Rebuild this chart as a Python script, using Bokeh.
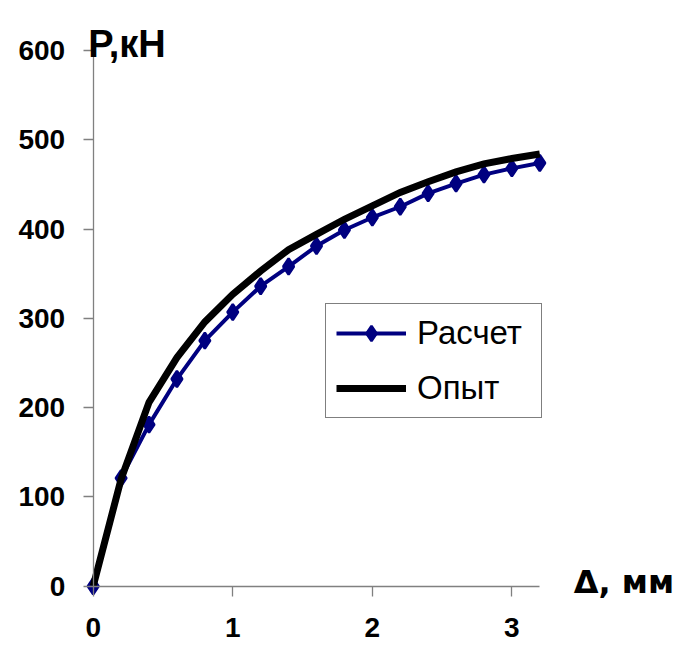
from bokeh.plotting import figure
from bokeh.models import Range1d, Legend, LegendItem, Label, FixedTicker
from bokeh.embed import file_html
from bokeh.resources import INLINE

# Data
delta_mm = [0.0, 0.2, 0.4, 0.6, 0.8, 1.0, 1.2, 1.4, 1.6, 1.8, 2.0, 2.2, 2.4, 2.6, 2.8, 3.0, 3.2]
p_calc = [0, 121, 181, 232, 275, 307, 336, 358, 381, 399, 413, 425, 440, 451, 461, 468, 474]
p_exp = [0, 120, 206, 256, 296, 327, 353, 377, 394, 411, 426, 441, 453, 464, 473, 479, 484]
x_ticks = [0, 1, 2, 3]
y_ticks = [0, 100, 200, 300, 400, 500, 600]
series_names = ["Расчет", "Опыт"]
y_title = "P,кН"
x_title = "Δ, мм"

FONT = "Liberation Sans"
W, H = 682, 646
# pixel placement of the data rectangle (0..3.2, 0..600)
X0_PX, X1_PX = 92.7, 539.3
Y0_PX, Y1_PX = 585.7, 50.0
XMAX, YMAX = 3.2, 600
sx = (X1_PX - X0_PX) / XMAX
sy = (Y0_PX - Y1_PX) / YMAX

p = figure(width=W, height=H, output_backend="svg", toolbar_location=None,
           x_range=Range1d(-X0_PX / sx, (W - X0_PX) / sx),
           y_range=Range1d(-(H - Y0_PX) / sy, Y0_PX / sy),
           min_border_left=0, min_border_right=0, min_border_top=0, min_border_bottom=0)
p.outline_line_color = None
p.grid.visible = False
p.background_fill_color = "white"
p.border_fill_color = "white"

xa, ya = p.xaxis[0], p.yaxis[0]
xa.fixed_location = 0
ya.fixed_location = 0
xa.bounds = (0, XMAX)
ya.bounds = (0, YMAX)
for ax in (xa, ya):
    ax.axis_line_color = "#808080"
    ax.axis_line_width = 1.3
    ax.major_tick_line_color = "#808080"
    ax.major_tick_line_width = 1.3
    ax.major_tick_in = 0
    ax.major_tick_out = 10
    ax.minor_tick_line_color = None
    ax.major_label_text_font = FONT
    ax.major_label_text_font_style = "bold"
    ax.major_label_text_font_size = "28px"
    ax.major_label_text_color = "black"

xa.ticker = FixedTicker(ticks=x_ticks)
ya.ticker = FixedTicker(ticks=y_ticks)
xa.major_label_standoff = 22
ya.major_label_standoff = 18

NAVY = "#000080"
r_calc_line = p.line(delta_mm, p_calc, line_color=NAVY, line_width=4)
r_calc_pts = p.scatter(delta_mm, p_calc, marker="diamond", size=16,
                       fill_color=NAVY, line_color=NAVY, line_width=2.5)
r_exp = p.line(delta_mm, p_exp, line_color="black", line_width=7, line_join="miter")

legend = Legend(items=[LegendItem(label=series_names[0], renderers=[r_calc_line, r_calc_pts]),
                       LegendItem(label=series_names[1], renderers=[r_exp])],
                location=(325, H - 418), orientation="vertical")
legend.label_text_font = FONT
legend.label_text_font_size = "33px"
legend.label_text_color = "black"
legend.glyph_width = 70
legend.glyph_height = 38
legend.label_height = 38
legend.label_width = 114
legend.label_standoff = 11
legend.spacing = 17
legend.padding = 10
legend.margin = 0
legend.border_line_color = "black"
legend.border_line_width = 1.3
legend.background_fill_color = "white"
legend.background_fill_alpha = 1
p.add_layout(legend)

p.add_layout(Label(x=0, y=YMAX, x_offset=-5, y_offset=6.5, text=y_title, text_font=FONT,
                   text_font_style="bold", text_font_size="38px", text_baseline="alphabetic",
                   text_color="black"))
p.add_layout(Label(x=XMAX, y=0, x_offset=34, y_offset=4, text=x_title, text_font="DejaVu Sans",
                   text_font_style="bold", text_font_size="32px", text_baseline="alphabetic",
                   text_color="black"))

open("out.html", "w").write(file_html(p, INLINE))
